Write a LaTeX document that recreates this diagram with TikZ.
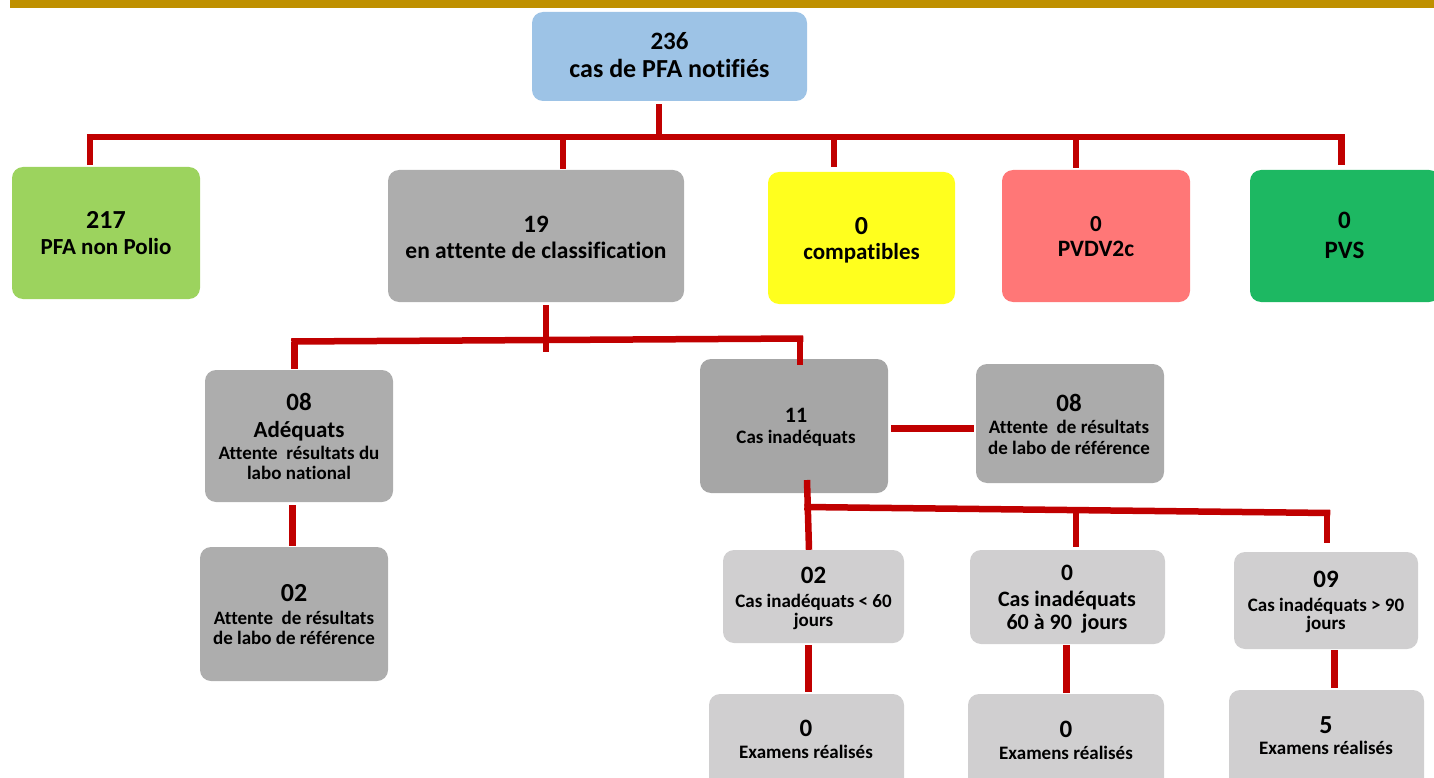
\documentclass[tikz,border=0pt]{standalone}
\usepackage{fontspec}
\setmainfont{Carlito}[Ligatures=NoCommon]
\usetikzlibrary{calc}
\definecolor{goldc}{HTML}{BF9000}
\definecolor{redc}{HTML}{C00000}
\definecolor{topc}{HTML}{9DC3E6}
\definecolor{greenl}{HTML}{9CD35E}
\definecolor{grayc}{HTML}{ADADAD}
\definecolor{grayd}{HTML}{A6A6A6}
\definecolor{graym}{HTML}{ABABAB}
\definecolor{grayl}{HTML}{D0CFD0}
\definecolor{yellowc}{HTML}{FFFF1E}
\definecolor{pinkc}{HTML}{FF7777}
\definecolor{greend}{HTML}{1DB862}
\newcommand{\fsz}[1]{\fontsize{#1}{#1}\selectfont}
\begin{document}
\begin{tikzpicture}[x=1pt,y=-1pt,
  box/.style={rounded corners=11pt, inner sep=0pt},
  ln/.style={anchor=base, inner sep=0pt, font=\bfseries},
  conn/.style={draw=redc, line width=6.5pt}]
\useasboundingbox (0,0) rectangle (1434,778);
\clip (0,0) rectangle (1434,778);
\fill[goldc] (10,0) rectangle (1434,8);
% ---------- boxes ----------
\node[box, fill=topc,    minimum width=275pt, minimum height=89pt]  (top)   at (669.5,56.5) {};
\node[box, fill=greenl,  minimum width=188pt, minimum height=132pt] (n217)  at (106,233) {};
\node[box, fill=grayc,   minimum width=296pt, minimum height=132pt] (n19)   at (536,236) {};
\node[box, fill=yellowc, minimum width=187pt, minimum height=132pt] (comp)  at (861.5,238) {};
\node[box, fill=pinkc,   minimum width=188pt, minimum height=132pt] (pvdv)  at (1096,236) {};
\node[box, fill=greend,  minimum width=190pt, minimum height=132pt] (pvs)   at (1345,236) {};
\node[box, fill=grayc,   minimum width=188pt, minimum height=132pt] (ad)    at (299,436) {};
\node[box, fill=grayc,   minimum width=188pt, minimum height=134pt] (n02)   at (294,614) {};
\node[box, fill=grayd,   minimum width=188pt, minimum height=134pt] (n11)   at (794,426) {};
\node[box, fill=graym,   minimum width=188pt, minimum height=119pt] (ref)   at (1070,423.5) {};
\node[box, fill=grayl,   minimum width=181pt, minimum height=93pt]  (c60)   at (813.5,596.5) {};
\node[box, fill=grayl,   minimum width=195pt, minimum height=94pt]  (c6090) at (1067.5,597) {};
\node[box, fill=grayl,   minimum width=184pt, minimum height=97pt]  (c90)   at (1326,600.5) {};
\node[box, fill=grayl,   minimum width=195pt, minimum height=100pt] (e1)    at (806.5,744) {};
\node[box, fill=grayl,   minimum width=196pt, minimum height=100pt] (e2)    at (1066,744) {};
\node[box, fill=grayl,   minimum width=195pt, minimum height=104pt] (e3)    at (1326.5,742) {};
% ---------- texts ----------
\node[ln] (t1) at (669.5,50) {\fsz{25}236};
\node[ln] (t2) at (669.5,78) {\fsz{26}cas de PFA notifiés};
\node[ln] (t3) at (106,228) {\fsz{26}217};
\node[ln] (t4) at (106,254) {\fsz{23}PFA non Polio};
\node[ln] (t5) at (536,233) {\fsz{25}19};
\node[ln] (t6) at (536,258) {\fsz{23.5}en attente de classification};
\node[ln] (t7) at (861.5,234) {\fsz{26}0};
\node[ln] (t8) at (861.5,259) {\fsz{23}compatibles};
\node[ln] (t9) at (1096,231) {\fsz{23}0};
\node[ln] (t10) at (1096,256) {\fsz{23.5}PVDV2c};
\node[ln] (t11) at (1344.5,229) {\fsz{25}0};
\node[ln] (t12) at (1344.5,258) {\fsz{25}PVS};
\node[ln] (t13) at (299,410) {\fsz{25}08};
\node[ln] (t14) at (299,437) {\fsz{23}Adéquats};
\node[ln] (t15) at (299,459) {\fsz{19}Attente\ \ résultats du};
\node[ln] (t16) at (299,479) {\fsz{19}labo national};
\node[ln] (t17) at (294,601) {\fsz{26}02};
\node[ln] (t18) at (294,624) {\fsz{19}Attente\ \ de résultats};
\node[ln] (t19) at (294,644) {\fsz{19}de labo de référence};
\node[ln] (t20) at (796,422) {\fsz{22}11};
\node[ln] (t21) at (796,443) {\fsz{19}Cas inadéquats};
\node[ln] (t22) at (1069,411) {\fsz{25}08};
\node[ln] (t23) at (1069,433) {\fsz{19}Attente\ \ de résultats};
\node[ln] (t24) at (1069,454) {\fsz{19}de labo de référence};
\node[ln] (t25) at (813.5,583) {\fsz{25}02};
\node[ln] (t26) at (813.5,607) {\fsz{19}Cas inadéquats < 60};
\node[ln] (t27) at (813.5,626) {\fsz{19}jours};
\node[ln] (t28) at (1067,580) {\fsz{23.5}0};
\node[ln] (t29) at (1067,606) {\fsz{22}Cas inadéquats};
\node[ln] (t30) at (1067,629) {\fsz{22}60 à 90\ \ jours};
\node[ln] (t31) at (1326,587) {\fsz{25}09};
\node[ln] (t32) at (1326,611) {\fsz{19}Cas inadéquats > 90};
\node[ln] (t33) at (1326,629) {\fsz{19}jours};
\node[ln] (t34) at (806,736) {\fsz{25}0};
\node[ln] (t35) at (806,758) {\fsz{19}Examens réalisés};
\node[ln] (t36) at (1066,737) {\fsz{25}0};
\node[ln] (t37) at (1066,759) {\fsz{19}Examens réalisés};
\node[ln] (t38) at (1326,733) {\fsz{26}5};
\node[ln] (t39) at (1326,754) {\fsz{19}Examens réalisés};
% ---------- connectors level 0 -> 1 ----------
\coordinate (b0)  at (659,137);
\coordinate (b0L) at (90,137);
\coordinate (b0R) at (1341.5,137);
\draw[conn] ($(b0 |- top.south)+(0,3)$) -- (b0);
\draw[conn] ($(b0L)+(-3.25,0)$) -- ($(b0R)+(3.25,0)$);
\draw[conn] (b0L) -- ($(b0L |- n217.north)+(0,-2)$);
\draw[conn] (563,137) -- ($(563,0 |- n19.north)+(0,-1)$);
\draw[conn] (834,137) -- ($(834,0 |- comp.north)+(0,-5)$);
\draw[conn] (1076,137) -- ($(1076,0 |- pvdv.north)+(0,-2)$);
\draw[conn] (b0R) -- ($(b0R |- pvs.north)+(0,-5)$);
% ---------- 19 -> level 2 ----------
\coordinate (b1L) at (294.5,341.5);
\coordinate (b1R) at (800,338.5);
\draw[conn] ($(546,0 |- n19.south)+(0,3)$) -- (546,352);
\draw[conn] ($(b1L)+(-3.25,0)$) -- ($(b1R)+(3.25,0)$);
\draw[conn] (b1L) -- ($(b1L |- ad.north)+(0,-1)$);
\draw[conn] (b1R) -- ($(b1R |- n11.north)+(0,6)$);
\draw[conn] (292.5,505) -- (292.5,546);
\draw[conn] ($(n11.east)+(3,2.5)$) -- ($(ref.west)+(-2,5)$);
% ---------- 11 -> level 3 ----------
\coordinate (b2L) at (807.5,507);
\coordinate (b2R) at (1327,513);
\draw[conn] (807,480) -- ($(809,0 |- c60.north)+(0,0)$);
\draw[conn] ($(b2L)+(-3.25,0)$) -- ($(b2R)+(3.25,0)$);
\draw[conn] (1076,510) -- ($(1076,0 |- c6090.north)+(0,-3)$);
\draw[conn] (b2R) -- ($(b2R |- c90.north)+(0,-9)$);
% ---------- level 3 -> 4 ----------
\draw[conn] ($(808.5,0 |- c60.south)+(0,2)$) -- ($(808.5,0 |- e1.north)+(0,-2)$);
\draw[conn] ($(1066.5,0 |- c6090.south)+(0,1)$) -- ($(1066.5,0 |- e2.north)+(0,-1)$);
\draw[conn] ($(1334.5,0 |- c90.south)+(0,1)$) -- ($(1334.5,0 |- e3.north)+(0,-2)$);
\end{tikzpicture}
\end{document}
